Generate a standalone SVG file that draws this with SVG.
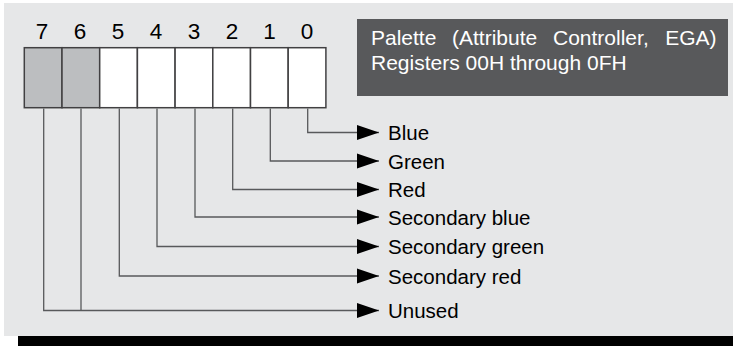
<svg xmlns="http://www.w3.org/2000/svg" width="733" height="346" viewBox="0 0 733 346">
<style>
.lbl{font-family:"Liberation Sans",Arial,sans-serif;font-size:20.5px;fill:#000}
.dig{font-family:"Liberation Sans",Arial,sans-serif;font-size:22.5px;fill:#000;text-anchor:middle}
.ttl{font-family:"Liberation Sans",Arial,sans-serif;font-size:21px;fill:#fff}
.cell{stroke:#414042;stroke-width:1.5;fill:#fff}
.cell.g{fill:#bcbec0}
.con{fill:none;stroke:#58595b;stroke-width:1.3;marker-end:url(#arr)}
.con2{fill:none;stroke:#58595b;stroke-width:1.3}
</style>
<defs>
<marker id="arr" markerUnits="userSpaceOnUse" markerWidth="23" markerHeight="16" refX="22" refY="7.5" orient="auto" overflow="visible">
<path d="M0,0 L22,7.5 L0,15 Z" fill="#000"/>
</marker>
</defs>
<rect x="4" y="3" width="729" height="333" fill="#e6e7e8"/>
<rect x="18" y="336" width="715" height="10" fill="#000"/>
<g id="title">
<rect x="357" y="19" width="371" height="77" fill="#58595b"/>
<text class="ttl" y="44.5"><tspan x="371">Palette</tspan><tspan x="452">(Attribute</tspan><tspan x="553">Controller,</tspan><tspan x="716.5" text-anchor="end">EGA)</tspan></text>
<text class="ttl" x="371" y="69.5">Registers 00H through 0FH</text>
</g>
<g id="register">
<rect class="cell g" x="24.3" y="47.7" width="37.7" height="60"/>
<rect class="cell g" x="62" y="47.7" width="37.7" height="60"/>
<rect class="cell" x="99.7" y="47.7" width="37.7" height="60"/>
<rect class="cell" x="137.4" y="47.7" width="37.7" height="60"/>
<rect class="cell" x="175.1" y="47.7" width="37.7" height="60"/>
<rect class="cell" x="212.8" y="47.7" width="37.7" height="60"/>
<rect class="cell" x="250.5" y="47.7" width="37.7" height="60"/>
<rect class="cell" x="288.2" y="47.7" width="37.7" height="60"/>
<text class="dig" x="42" y="39.3">7</text>
<text class="dig" x="80" y="39.3">6</text>
<text class="dig" x="118" y="39.3">5</text>
<text class="dig" x="156" y="39.3">4</text>
<text class="dig" x="194" y="39.3">3</text>
<text class="dig" x="232" y="39.3">2</text>
<text class="dig" x="269.5" y="39.3">1</text>
<text class="dig" x="307" y="39.3">0</text>
</g>
<g id="connectors">
<path class="con" d="M307.7,108.5 V132.5 H379"/>
<path class="con" d="M270.3,108.5 V161 H379"/>
<path class="con" d="M232.7,108.5 V189.5 H379"/>
<path class="con" d="M195,108.5 V217 H379"/>
<path class="con" d="M157,108.5 V246.5 H379"/>
<path class="con" d="M119.3,108.5 V276 H379"/>
<path class="con" d="M43.7,108.5 V310.5 H379"/>
<path class="con2" d="M81,108.5 V310.5"/>
</g>
<g id="labels">
<text class="lbl" x="388" y="140">Blue</text>
<text class="lbl" x="388" y="168.5">Green</text>
<text class="lbl" x="388" y="197">Red</text>
<text class="lbl" x="388" y="225">Secondary blue</text>
<text class="lbl" x="388" y="254">Secondary green</text>
<text class="lbl" x="388" y="283.5">Secondary red</text>
<text class="lbl" x="388" y="318">Unused</text>
</g>
</svg>
